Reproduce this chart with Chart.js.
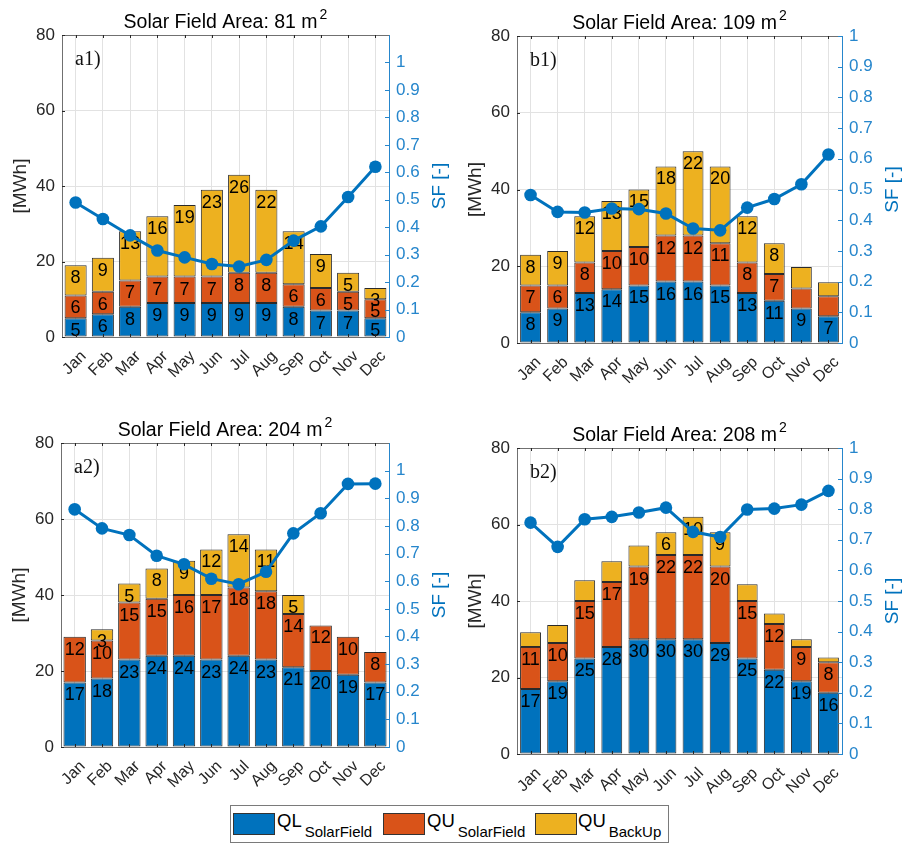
<!DOCTYPE html>
<html lang="en">
<head>
<meta charset="utf-8">
<title>Monthly energy balance by solar field area</title>
<script src="https://cdn.jsdelivr.net/npm/chart.js@4.4.1/dist/chart.umd.min.js"></script>
<style>
  html, body { margin: 0; padding: 0; background: #fff; }
  body { position: relative; width: 903px; height: 843px; overflow: hidden; font-family: "Liberation Sans", Arial, sans-serif; }
  canvas { position: absolute; }
  #legend { position: absolute; left: 230px; top: 805px; width: 437px; height: 36px; border: 1px solid #7a7a7a; background: #fff; }
  #legend i { position: absolute; top: 7px; width: 40px; height: 20px; border: 1px solid #333; }
  #legend span { position: absolute; top: 4px; font-size: 18.5px; color: #000; white-space: nowrap; line-height: normal; }
  #legend sub { font-size: 15px; vertical-align: baseline; position: relative; top: 10px; margin-left: 3px; }
</style>
</head>
<body>
<canvas id="a1" width="450" height="400" style="left:0;top:0"></canvas>
<canvas id="b1" width="453" height="400" style="left:450px;top:0"></canvas>
<canvas id="a2" width="450" height="400" style="left:0;top:400px"></canvas>
<canvas id="b2" width="453" height="400" style="left:450px;top:400px"></canvas>

<div id="legend">
  <i style="left:2px;background:#0072BD"></i><span style="left:46px">QL<sub>SolarField</sub></span>
  <i style="left:152px;background:#D95319"></i><span style="left:196px">QU<sub>SolarField</sub></span>
  <i style="left:304px;background:#EDB120"></i><span style="left:347px">QU<sub>BackUp</sub></span>
</div>

<script>
// ---- data -------------------------------------------------------------
const months = ['Jan', 'Feb', 'Mar', 'Apr', 'May', 'Jun', 'Jul', 'Aug', 'Sep', 'Oct', 'Nov', 'Dec'];
const seriesNames = ['QL SolarField', 'QU SolarField', 'QU BackUp'];

// 81 m² solar field  [MWh] / SF [-]
const a1QL = [5, 6, 8, 9, 9, 9, 9, 9, 8, 7, 7, 5];
const a1QU = [6, 6, 7, 7, 7, 7, 8, 8, 6, 6, 5, 5];
const a1QB = [8, 9, 13, 16, 19, 23, 26, 22, 14, 9, 5, 3];
const a1SF = [0.49, 0.43, 0.37, 0.315, 0.29, 0.266, 0.257, 0.281, 0.351, 0.403, 0.51, 0.62];

// 109 m² solar field
const b1QL = [8, 9, 13, 14, 15, 16, 16, 15, 13, 11, 9, 7];
const b1QU = [7, 6, 8, 10, 10, 12, 12, 11, 8, 7, 5.2, 5.2];
const b1QB = [8, 9, 12, 13, 15, 18, 22, 20, 12, 8, 5.6, 3.6];
const b1SF = [0.482, 0.427, 0.425, 0.438, 0.436, 0.422, 0.373, 0.367, 0.441, 0.469, 0.517, 0.614];

// 204 m² solar field
const a2QL = [17, 18, 23, 24, 24, 23, 24, 23, 21, 20, 19, 17];
const a2QU = [12, 10, 15, 15, 16, 17, 18, 18, 14, 12, 10, 8];
const a2QB = [0, 3, 5, 8, 9, 12, 14, 11, 5, 0, 0, 0];
const a2SF = [0.86, 0.791, 0.767, 0.692, 0.661, 0.609, 0.589, 0.634, 0.773, 0.846, 0.952, 0.953];

// 208 m² solar field
const b2QL = [17, 19, 25, 28, 30, 30, 30, 29, 25, 22, 19, 16];
const b2QU = [11, 10, 15, 17, 19, 22, 22, 20, 15, 12, 9, 8];
const b2QB = [3.8, 4.7, 5.4, 5.4, 5.5, 6, 10, 9, 4.4, 2.7, 2, 1.2];
const b2SF = [0.756, 0.677, 0.767, 0.775, 0.789, 0.805, 0.726, 0.709, 0.799, 0.802, 0.815, 0.86];

// axis ticks
const mwhTicks = [0, 20, 40, 60, 80];
const sfTicks = [0, 0.1, 0.2, 0.3, 0.4, 0.5, 0.6, 0.7, 0.8, 0.9, 1];

// ---- styling ----------------------------------------------------------
const FONT = '"Liberation Sans", Arial, sans-serif';
const SERIF = '"Liberation Serif", "Times New Roman", serif';
const C_QL = '#0072BD', C_QU = '#D95319', C_QB = '#EDB120', C_SF = '#0072BD';
const C_SFAXIS = '#2686cc';
const INK = '#262626', AXIS = '#707070', GRID = '#e2e2e2', EDGE = '#2a2a2a';

Chart.defaults.font.family = FONT;

// panel layout (plot box in canvas pixels); months listed under
// "unlabelled" carry no value text on that segment
const panels = [
  { id: 'a1', tag: 'a1)', area: '81',  ql: a1QL, qu: a1QU, qb: a1QB, sf: a1SF, sfMax: 1.1, bar: 0.81,
    box: { left: 62, right: 389, top: 35, bottom: 337 }, unlabelled: {} },
  { id: 'b1', tag: 'b1)', area: '109', ql: b1QL, qu: b1QU, qb: b1QB, sf: b1SF, sfMax: 1, bar: 0.77,
    box: { left: 67, right: 392, top: 36, bottom: 343 }, unlabelled: { qu: [10, 11], qb: [10, 11] } },
  { id: 'a2', tag: 'a2)', area: '204', ql: a2QL, qu: a2QU, qb: a2QB, sf: a2SF, sfMax: 1.1, bar: 0.82,
    box: { left: 61, right: 389, top: 43, bottom: 347 }, unlabelled: {} },
  { id: 'b2', tag: 'b2)', area: '208', ql: b2QL, qu: b2QU, qb: b2QB, sf: b2SF, sfMax: 1, bar: 0.77,
    box: { left: 67, right: 392, top: 48, bottom: 354 }, unlabelled: { qb: [0, 1, 2, 3, 4, 8, 9, 10, 11] } }
];

// value text inside each stacked segment, just below the segment top
function drawSegmentLabels(chart, opts) {
  const ctx = chart.ctx;
  ctx.save();
  ctx.font = '18px ' + FONT;
  ctx.fillStyle = '#000';
  ctx.textAlign = 'center';
  ctx.textBaseline = 'middle';
  chart.data.datasets.forEach((ds, i) => {
    if (ds.type !== 'bar') return;
    const skip = opts.unlabelled[ds.key] || [];
    chart.getDatasetMeta(i).data.forEach((el, j) => {
      const v = ds.data[j];
      if (!v || skip.includes(j)) return;
      ctx.fillText(String(v), el.x, el.y + 13);
    });
  });
  ctx.restore();
}

const panelDecor = {
  id: 'panelDecor',
  beforeDatasetDraw(chart, args, opts) {
    if (args.meta.type === 'line') drawSegmentLabels(chart, opts);
  },
  afterDraw(chart, args, opts) {
    const ctx = chart.ctx;
    const { left, right, top, bottom } = chart.chartArea;
    const xs = chart.scales.x, ys = chart.scales.y, ys1 = chart.scales.y1;
    ctx.save();

    // box top edge
    ctx.strokeStyle = AXIS;
    ctx.lineWidth = 1;
    ctx.beginPath();
    ctx.moveTo(left, top + 0.5);
    ctx.lineTo(right, top + 0.5);
    ctx.stroke();

    // inward tick marks
    ctx.strokeStyle = INK;
    ctx.beginPath();
    months.forEach((m, j) => {
      const x = Math.round(xs.getPixelForValue(j)) + 0.5;
      ctx.moveTo(x, bottom); ctx.lineTo(x, bottom - 3);
      ctx.moveTo(x, top); ctx.lineTo(x, top + 3);
    });
    mwhTicks.forEach(v => {
      const y = Math.round(ys.getPixelForValue(v)) + 0.5;
      ctx.moveTo(left, y); ctx.lineTo(left + 3, y);
    });
    ctx.stroke();
    ctx.strokeStyle = C_SFAXIS;
    ctx.beginPath();
    sfTicks.forEach(v => {
      const y = Math.round(ys1.getPixelForValue(v)) + 0.5;
      ctx.moveTo(right, y); ctx.lineTo(right - 4, y);
    });
    ctx.stroke();

    // title with superscript
    const main = 'Solar Field Area: ' + opts.area + ' m';
    ctx.fillStyle = '#000';
    ctx.textBaseline = 'alphabetic';
    ctx.textAlign = 'left';
    ctx.font = '19.5px ' + FONT;
    const wMain = ctx.measureText(main).width;
    ctx.font = '14px ' + FONT;
    const wSup = ctx.measureText('2').width;
    const x0 = (left + right) / 2 - (wMain + 2 + wSup) / 2;
    ctx.font = '19.5px ' + FONT;
    ctx.fillText(main, x0, top - 7);
    ctx.font = '14px ' + FONT;
    ctx.fillText('2', x0 + wMain + 2, top - 16);

    // panel tag
    ctx.font = '20px ' + SERIF;
    ctx.fillStyle = '#111';
    ctx.fillText(opts.tag, left + 13, top + 30);

    // axis titles
    ctx.textAlign = 'center';
    ctx.textBaseline = 'middle';
    ctx.font = '19px ' + FONT;
    ctx.save();
    ctx.translate(left - 41, (top + bottom) / 2);
    ctx.rotate(-Math.PI / 2);
    ctx.fillStyle = INK;
    ctx.fillText('[MWh]', 0, 0);
    ctx.restore();
    ctx.save();
    ctx.translate(right + 51, (top + bottom) / 2);
    ctx.rotate(-Math.PI / 2);
    ctx.fillStyle = C_SF;
    ctx.fillText('SF [-]', 0, 0);
    ctx.restore();

    ctx.restore();
  }
};

function buildPanel(p) {
  const canvas = document.getElementById(p.id);
  const W = canvas.width, H = canvas.height;
  const barStyle = {
    type: 'bar', yAxisID: 'y', order: 1,
    borderColor: EDGE, borderWidth: 1, borderSkipped: false,
    barPercentage: p.bar, categoryPercentage: 1
  };
  new Chart(canvas, {
    data: {
      labels: months,
      datasets: [
        { ...barStyle, key: 'ql', label: seriesNames[0], data: p.ql, backgroundColor: C_QL },
        { ...barStyle, key: 'qu', label: seriesNames[1], data: p.qu, backgroundColor: C_QU },
        { ...barStyle, key: 'qb', label: seriesNames[2], data: p.qb, backgroundColor: C_QB },
        {
          type: 'line', key: 'sf', label: 'SF', data: p.sf, yAxisID: 'y1', order: 0,
          borderColor: C_SF, borderWidth: 3, tension: 0,
          pointRadius: 6.3, pointHoverRadius: 6.3, pointBackgroundColor: C_SF,
          pointBorderColor: C_SF, pointBorderWidth: 0, clip: false
        }
      ]
    },
    options: {
      responsive: false,
      devicePixelRatio: 1,
      animation: false,
      layout: { padding: { top: p.box.top, left: 0, right: 0, bottom: 0 } },
      plugins: {
        legend: { display: false },
        tooltip: { enabled: false },
        panelDecor: { area: p.area, tag: p.tag, unlabelled: p.unlabelled }
      },
      scales: {
        x: {
          type: 'category', stacked: true, offset: true,
          grid: { offset: false, color: GRID, drawTicks: false },
          border: { color: AXIS },
          ticks: {
            autoSkip: false, minRotation: 45, maxRotation: 45, padding: 10, labelOffset: 8,
            color: INK, font: { size: 16 }
          },
          afterFit(s) { s.height = H - p.box.bottom; }
        },
        y: {
          position: 'left', stacked: true, min: 0, max: 80,
          afterBuildTicks(s) { s.ticks = mwhTicks.map(v => ({ value: v })); },
          grid: { color: GRID, drawTicks: false },
          border: { color: AXIS },
          ticks: { padding: 7, color: INK, font: { size: 17 } },
          afterFit(s) { s.width = p.box.left; }
        },
        y1: {
          position: 'right', min: 0, max: p.sfMax,
          afterBuildTicks(s) { s.ticks = sfTicks.map(v => ({ value: v })); },
          grid: { drawOnChartArea: false, drawTicks: false },
          border: { color: C_SFAXIS },
          ticks: {
            padding: 7, color: C_SFAXIS, font: { size: 17 },
            callback: v => (v === 0 || v === 1) ? String(v) : v.toFixed(1)
          },
          afterFit(s) { s.width = W - p.box.right; }
        }
      }
    },
    plugins: [panelDecor]
  });
}

panels.forEach(buildPanel);
</script>
</body>
</html>
